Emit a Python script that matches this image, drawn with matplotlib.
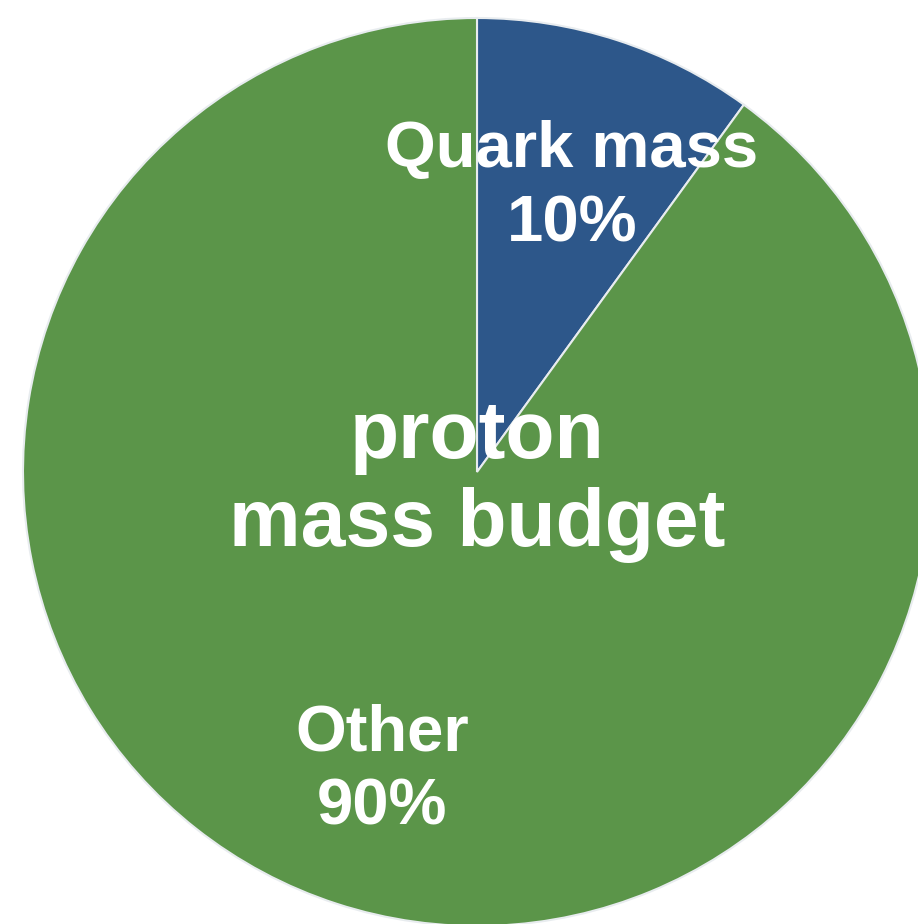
import matplotlib.pyplot as plt

labels = ["Quark mass", "Other"]
shares = [10, 90]
colors = ["#2D578A", "#5B9549"]
title_text = "proton\nmass budget"

plt.rcParams['font.family'] = ['Liberation Sans', 'DejaVu Sans']

fig = plt.figure(figsize=(9.18, 9.24), dpi=100)
ax = fig.add_axes([0, 0, 1, 1])

wedges, texts = ax.pie(shares, labels=[f"{l}\n{s}%" for l, s in zip(labels, shares)],
                       colors=colors, startangle=90, counterclock=False,
                       center=(477, 452), radius=454, labeldistance=0.675,
                       wedgeprops=dict(edgecolor='#e8ecef', linewidth=1.5),
                       textprops=dict(color='white', fontsize=47, fontweight='bold'))
for t in texts:
    t.set_ha('center')
    t.set_va('center')
    t.set_linespacing(1.3)
    x, y = t.get_position()
    t.set_position((x, y - 7))

ax.text(477, 443, title_text, ha='center', va='center', color='white',
        fontsize=58, fontweight='bold', linespacing=1.2)

ax.set_xlim(0, 918)
ax.set_ylim(0, 924)
ax.set_aspect('equal')
ax.axis('off')

fig.savefig('out.png', dpi=100)
